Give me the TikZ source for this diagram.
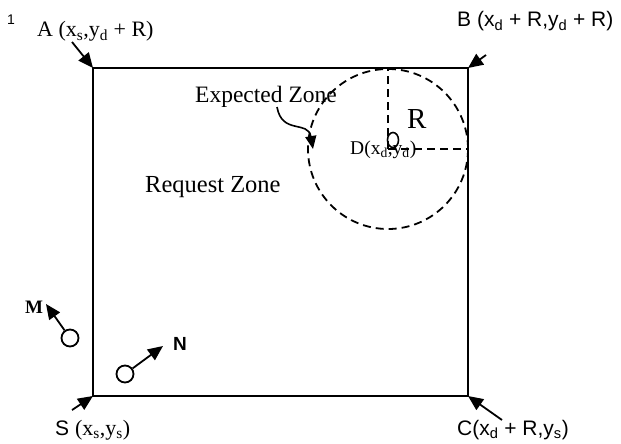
\documentclass[tikz,border=0pt]{standalone}
\usepackage{fontspec}
\setmainfont{Liberation Serif}
\setsansfont{Liberation Sans}
\usetikzlibrary{arrows.meta,shapes.geometric}

\begin{document}
\begin{tikzpicture}[x=1pt,y=-1pt,
  edge/.style={line width=1.9pt},
  ring/.style={line width=1.8pt,dash pattern=on 8pt off 5pt},
  pointer/.style={-{Triangle[length=15pt,width=13pt]},line width=1.8pt},
  serif/.style={font=\fontsize{22}{24}\selectfont,anchor=base west,inner sep=0pt},
  sans/.style={font=\sffamily\fontsize{21}{23}\selectfont,anchor=base west,inner sep=0pt},
  host/.style={circle,draw,line width=1.8pt,minimum size=17pt,inner sep=0pt}]
  \useasboundingbox (0,0) rectangle (621,444);
  \coordinate (A) at (93,68);
  \coordinate (B) at (468,68);
  \coordinate (C) at (468,396);
  \coordinate (S) at (93,396);
  \coordinate (D) at (388,149);
  \draw[edge] (A) rectangle (C);
  \node[serif,font=\fontsize{23.5}{25}\selectfont] (ez) at (195,102) {Expected Zone};
  \node[serif,font=\fontsize{24.5}{26}\selectfont] (rz) at (145,192) {Request Zone};
  \node[serif,font=\fontsize{19.5}{22}\selectfont] (dl) at (350,154) {D(x\textsubscript{d},y\textsubscript{d})};
  \draw[ring] (D) circle[radius=80];
  \draw[ring] (D) -- (D |- A);
  \draw[ring] (D) -- (D -| C);
  \node[serif,font=\fontsize{29}{30}\selectfont] (rl) at (407,128) {R};
  \node[ellipse,draw,line width=1.6pt,minimum width=11pt,minimum height=15pt,inner sep=0pt] (dpt) at (393,140) {};
  \coordinate (eza) at (277,107);
  \coordinate (ezb) at (313,149);
  \draw[pointer,-{Triangle[length=13pt,width=11pt]},line width=1.6pt] (eza) .. controls (282,135) and (308,120) .. (ezb);
  \node[font=\sffamily\fontsize{14}{15}\selectfont,anchor=base west,inner sep=0pt] (one) at (7,25) {1};
  \node[serif] (al) at (37,37) {A (x\textsubscript{s},y\textsubscript{d} + R)};
  \node[sans] (bl) at (457,27) {B (x\textsubscript{d} + R,y\textsubscript{d} + R)};
  \node[sans] (sl) at (55,435) {S {\rmfamily\fontsize{22}{24}\selectfont (x\textsubscript{s},y\textsubscript{s})}};
  \node[sans] (cl) at (457,435) {C(x\textsubscript{d} + R,y\textsubscript{s})};
  \coordinate (at) at (72,42);
  \coordinate (bt) at (486,55);
  \coordinate (st) at (72,410);
  \coordinate (ct) at (502,420);
  \draw[pointer] (at) -- (A);
  \draw[pointer] (bt) -- (B);
  \draw[pointer] (st) -- (S);
  \draw[pointer] (ct) -- (C);
  \node[host] (m) at (70,338) {};
  \node[host] (n) at (125,374) {};
  \coordinate (mt) at (46,304);
  \coordinate (nt) at (163,346);
  \draw[pointer] (m) -- (mt);
  \draw[pointer] (n) -- (nt);
  \node[serif,font=\bfseries\fontsize{19}{22}\selectfont] (ml) at (25,313) {M};
  \node[sans,font=\sffamily\bfseries\fontsize{19}{20}\selectfont] (nl) at (173,350) {N};
\end{tikzpicture}
\end{document}
